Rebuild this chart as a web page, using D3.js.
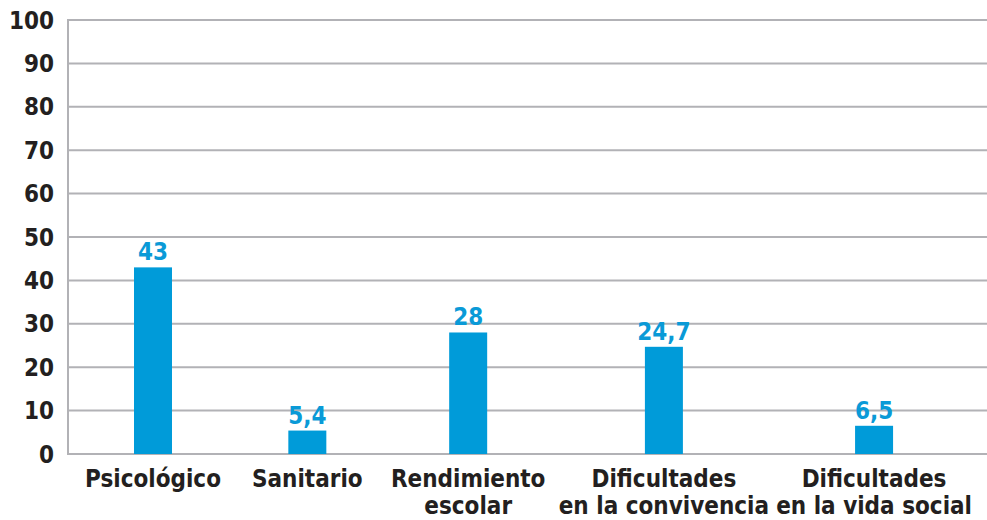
<!DOCTYPE html>
<html>
<head>
<meta charset="utf-8">
<script src="https://cdn.jsdelivr.net/npm/d3@7"></script>
<style>
  body { margin: 0; background: #fff; }
  text { font-family: "DejaVu Sans Condensed", "DejaVu Sans", Verdana, sans-serif; font-stretch: condensed; font-weight: bold; }
</style>
</head>
<body>
<script>
// datos
var categorias = ["Psicológico", "Sanitario", "Rendimiento escolar", "Dificultades en la convivencia", "Dificultades en la vida social"];
var lineas = [["Psicológico"], ["Sanitario"], ["Rendimiento", "escolar"], ["Dificultades", "en la convivencia"], ["Dificultades", "en la vida social"]];
var valores = [43, 5.4, 28, 24.7, 6.5];
var ticksY = [0, 10, 20, 30, 40, 50, 60, 70, 80, 90, 100];

var width = 987, height = 520;
var margin = {top: 20, right: 0, bottom: 66, left: 68};
var barW = 38;
var fs = 24;
// extremos de las etiquetas de categoria
var labL = 85, labR = 972;

var svg = d3.select("body").append("svg")
    .attr("width", width)
    .attr("height", height);

var y = d3.scaleLinear()
    .domain([0, 100])
    .range([height - margin.bottom, margin.top]);

var fmt = function(v){ return String(v).replace(".", ","); };

// etiquetas del eje x primero, para medirlas
var cat = svg.append("g").selectAll("text")
    .data(categorias)
    .enter().append("text")
    .attr("y", 487)
    .attr("text-anchor", "middle")
    .attr("font-size", fs)
    .attr("fill", "#231f20");

cat.selectAll("tspan")
    .data(function(d, i){ return lineas[i]; })
    .enter().append("tspan")
    .attr("dy", function(d, j){ return j === 0 ? 0 : 27; })
    .text(function(d){ return d; });

// ancho de cada etiqueta -> huecos iguales, mezclado con reparto regular
var anchos = categorias.map(function(d, i){
  var m = 0;
  d3.select(cat.nodes()[i]).selectAll("tspan").each(function(){
    m = Math.max(m, this.getComputedTextLength());
  });
  return m;
});
var n = categorias.length;
var hueco = (labR - labL - d3.sum(anchos)) / (n - 1);
var porHueco = [];
var pos = labL;
anchos.forEach(function(w){
  porHueco.push(pos + w / 2);
  pos += w + hueco;
});
var c0 = porHueco[0], c1 = porHueco[n - 1];
var centros = porHueco.map(function(c, i){
  return 0.7 * c + 0.3 * (c0 + (c1 - c0) * i / (n - 1));
});

var x = d3.scaleOrdinal()
    .domain(categorias)
    .range(centros);

cat.attr("x", function(d){ return x(d); });
cat.selectAll("tspan").attr("x", function(){ return x(d3.select(this.parentNode).datum()); });

// lineas de la rejilla
svg.insert("g", ":first-child").selectAll("line")
    .data(ticksY)
    .enter().append("line")
    .attr("x1", margin.left)
    .attr("x2", width)
    .attr("y1", function(d){ return y(d); })
    .attr("y2", function(d){ return y(d); })
    .attr("stroke", "#b2b2b6")
    .attr("stroke-width", 2);

svg.append("line")
    .attr("x1", margin.left).attr("x2", margin.left)
    .attr("y1", y(100) - 1).attr("y2", y(0) + 1)
    .attr("stroke", "#b2b2b6")
    .attr("stroke-width", 2);

// eje y
svg.append("g").selectAll("text")
    .data(ticksY)
    .enter().append("text")
    .attr("x", 54)
    .attr("y", function(d){ return y(d); })
    .attr("dy", "0.36em")
    .attr("text-anchor", "end")
    .attr("font-size", fs)
    .attr("fill", "#231f20")
    .text(function(d){ return d; });

// barras
svg.append("g").selectAll("rect")
    .data(valores)
    .enter().append("rect")
    .attr("x", function(d, i){ return x(categorias[i]) - barW / 2; })
    .attr("y", function(d){ return y(d); })
    .attr("width", barW)
    .attr("height", function(d){ return y(0) - y(d); })
    .attr("fill", "#009bd9");

// etiquetas de valor
svg.append("g").selectAll("text")
    .data(valores)
    .enter().append("text")
    .attr("x", function(d, i){ return x(categorias[i]); })
    .attr("y", function(d){ return y(d) - 7; })
    .attr("text-anchor", "middle")
    .attr("font-size", fs)
    .attr("fill", "#0a9ad7")
    .text(fmt);
</script>
</body>
</html>
